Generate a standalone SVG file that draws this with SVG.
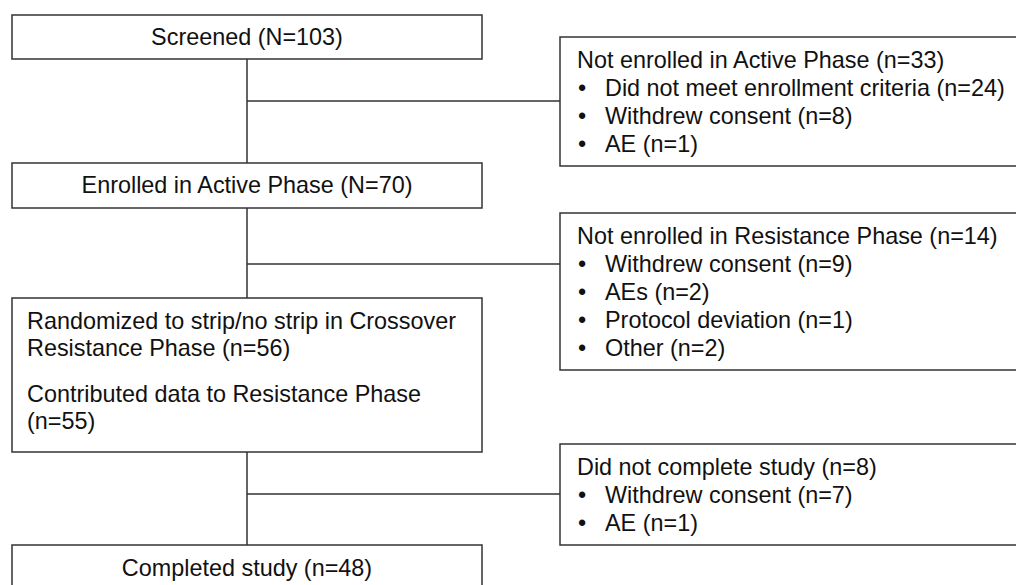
<svg xmlns="http://www.w3.org/2000/svg" width="1016" height="585" viewBox="0 0 1016 585">
<style>
.box{fill:#fff;stroke:#333;stroke-width:1.5}
.ln{fill:none;stroke:#333;stroke-width:1.5}
text{font-family:"Liberation Sans",Arial,sans-serif;font-size:23.4px;fill:#111}
.c{text-anchor:middle}
</style>
<rect width="1016" height="585" fill="#fff"/>
<g id="connectors">
<path class="ln" d="M247 59V163M247 101H560"/>
<path class="ln" d="M247 208V298M247 264H560"/>
<path class="ln" d="M247 452V545M247 494H560"/>
</g>
<g id="screened">
<rect class="box" x="12" y="15" width="470" height="44"/>
<text class="c" x="247" y="45">Screened (N=103)</text>
</g>
<g id="not-enrolled-active">
<rect class="box" x="560" y="37" width="470" height="129"/>
<text x="577" y="68">Not enrolled in Active Phase (n=33)</text>
<text x="578" y="96">•</text><text x="605" y="96">Did not meet enrollment criteria (n=24)</text>
<text x="578" y="124">•</text><text x="605" y="124">Withdrew consent (n=8)</text>
<text x="578" y="152">•</text><text x="605" y="152">AE (n=1)</text>
</g>
<g id="enrolled">
<rect class="box" x="12" y="163" width="470" height="45"/>
<text class="c" x="247" y="193">Enrolled in Active Phase (N=70)</text>
</g>
<g id="not-enrolled-resistance">
<rect class="box" x="560" y="213" width="470" height="157"/>
<text x="577" y="244">Not enrolled in Resistance Phase (n=14)</text>
<text x="578" y="272">•</text><text x="605" y="272">Withdrew consent (n=9)</text>
<text x="578" y="300">•</text><text x="605" y="300">AEs (n=2)</text>
<text x="578" y="328">•</text><text x="605" y="328">Protocol deviation (n=1)</text>
<text x="578" y="356">•</text><text x="605" y="356">Other (n=2)</text>
</g>
<g id="randomized">
<rect class="box" x="12" y="298" width="470" height="154"/>
<text x="27" y="329">Randomized to strip/no strip in Crossover</text>
<text x="27" y="356">Resistance Phase (n=56)</text>
<text x="27" y="402">Contributed data to Resistance Phase</text>
<text x="27" y="429">(n=55)</text>
</g>
<g id="did-not-complete">
<rect class="box" x="560" y="444" width="470" height="101"/>
<text x="577" y="475">Did not complete study (n=8)</text>
<text x="578" y="503">•</text><text x="605" y="503">Withdrew consent (n=7)</text>
<text x="578" y="531">•</text><text x="605" y="531">AE (n=1)</text>
</g>
<g id="completed">
<rect class="box" x="12" y="545" width="470" height="50"/>
<text class="c" x="247" y="576">Completed study (n=48)</text>
</g>
</svg>
